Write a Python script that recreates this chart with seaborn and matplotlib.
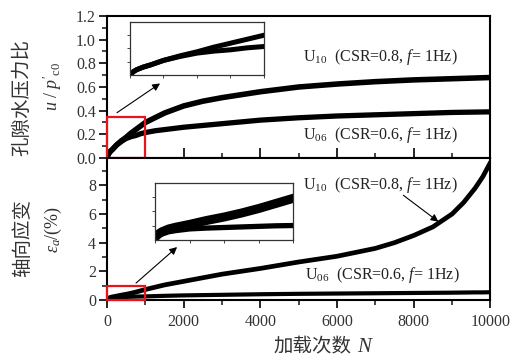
import matplotlib
matplotlib.use('Agg')
import matplotlib.pyplot as plt
import seaborn as sns
from matplotlib.patches import Rectangle
from matplotlib.ticker import MultipleLocator

# ---------- data ----------
N_pp = [0, 25, 50, 100, 150, 250, 375, 500, 625, 750, 875, 1000, 1250, 1500,
        2000, 2500, 3000, 4000, 5000, 6000, 7000, 8000, 9000, 10000]
pp_u10 = [0, 0.025, 0.04, 0.06, 0.075, 0.11, 0.145, 0.175, 0.21, 0.24, 0.27, 0.30,
          0.34, 0.38, 0.44, 0.48, 0.51, 0.56, 0.60, 0.625, 0.645, 0.66, 0.67, 0.68]
pp_u06 = [0, 0.025, 0.04, 0.06, 0.075, 0.11, 0.14, 0.165, 0.18, 0.19, 0.205, 0.215,
          0.23, 0.24, 0.26, 0.275, 0.29, 0.32, 0.34, 0.355, 0.365, 0.375, 0.385, 0.39]

N_ea = [0, 25, 50, 100, 150, 250, 375, 500, 625, 750, 875, 1000, 1500, 2000, 3000,
        4000, 5000, 6000, 7000, 7500, 8000, 8500, 9000, 9300, 9600, 9800, 10000]
ea_u10 = [0.04, 0.1, 0.14, 0.19, 0.22, 0.27, 0.34, 0.4, 0.47, 0.55, 0.64, 0.73, 1.05,
          1.3, 1.8, 2.2, 2.65, 3.05, 3.6, 4.0, 4.5, 5.1, 6.0, 6.8, 7.8, 8.6, 9.6]
ea_u06 = [0.03, 0.07, 0.1, 0.14, 0.16, 0.19, 0.205, 0.215, 0.225, 0.235, 0.245, 0.25,
          0.29, 0.32, 0.36, 0.4, 0.43, 0.45, 0.47, 0.48, 0.49, 0.5, 0.51, 0.52, 0.53,
          0.53, 0.54]

lab_u10 = r"U$_{\rm 10}$  (CSR=0.8, $f$= 1Hz)"
lab_u06 = r"U$_{\rm 06}$  (CSR=0.6, $f$= 1Hz)"

# ---------- style ----------
sns.set_theme(style='ticks')
plt.rcParams['font.family'] = ['Liberation Serif', 'Noto Sans CJK SC']
plt.rcParams['mathtext.fontset'] = 'custom'
plt.rcParams['mathtext.rm'] = 'Liberation Serif'
plt.rcParams['mathtext.it'] = 'Liberation Serif:italic'
plt.rcParams['axes.linewidth'] = 1.5
plt.rcParams['axes.edgecolor'] = 'black'

fig = plt.figure(figsize=(5.26, 3.6), dpi=100)
ax1 = fig.add_axes([0.2034, 0.5611, 0.7291, 0.3945])
ax2 = fig.add_axes([0.2034, 0.1667, 0.7291, 0.3944])

# main curves
sns.lineplot(x=N_pp, y=pp_u10, ax=ax1, color='black', lw=4.0)
sns.lineplot(x=N_pp, y=pp_u06, ax=ax1, color='black', lw=3.8)
sns.lineplot(x=N_ea, y=ea_u10, ax=ax2, color='black', lw=3.4)
sns.lineplot(x=N_ea, y=ea_u06, ax=ax2, color='black', lw=3.0)

ax1.set_xlim(0, 10000)
ax1.set_ylim(0, 1.2)
ax2.set_xlim(0, 10000)
ax2.set_ylim(0, 9.9)

for ax in (ax1, ax2):
    ax.xaxis.set_major_locator(MultipleLocator(2000))
    ax.xaxis.set_minor_locator(MultipleLocator(1000))
    ax.tick_params(axis='y', which='major', direction='out', length=6, width=1.4,
                   labelsize=11.5, labelcolor='#333333', pad=2)
    ax.tick_params(axis='y', which='minor', direction='out', length=3.5, width=1.2)
    ax.set_xlabel('')
    ax.set_ylabel('')

ax1.yaxis.set_minor_locator(MultipleLocator(0.1))
ax1.set_yticks([0, 0.2, 0.4, 0.6, 0.8, 1.0, 1.2])
ax1.set_yticklabels(['0.0', '0.2', '0.4', '0.6', '0.8', '1.0', '1.2'])
ax1.tick_params(axis='x', which='major', direction='inout', length=14, width=1.4,
                labelbottom=False)
ax1.tick_params(axis='x', which='minor', direction='inout', length=7, width=1.2)

ax2.yaxis.set_major_locator(MultipleLocator(2))
ax2.yaxis.set_minor_locator(MultipleLocator(1))
ax2.tick_params(axis='x', which='major', direction='out', length=6, width=1.4,
                labelsize=11.5, labelcolor='#333333', pad=4)
ax2.tick_params(axis='x', which='minor', direction='out', length=3.5, width=1.2)

# red zoom boxes
ax1.add_patch(Rectangle((0, 0), 1000, 0.35, fill=False, ec='#e8141c', lw=1.6,
                        clip_on=False, zorder=5))
ax2.add_patch(Rectangle((0, 0), 1000, 1.0, fill=False, ec='#e8141c', lw=1.6,
                        clip_on=False, zorder=5))

# arrows to insets
arrow = dict(arrowstyle='-|>', color='black', lw=0.8, mutation_scale=11,
             shrinkA=0, shrinkB=0)
ax1.annotate('', xy=(1384, 0.63), xytext=(261, 0.383), arrowprops=arrow)
ax2.annotate('', xy=(1828, 3.69), xytext=(757, 1.18), arrowprops=arrow)
ax2.annotate('', xy=(8642, 5.46), xytext=(7728, 7.3), arrowprops=arrow)

# curve labels
ax1.text(5117, 0.851, lab_u10, fontsize=11.5, va='center', color='#222222')
ax1.text(5117, 0.196, lab_u06, fontsize=11.5, va='center', color='#222222')
ax2.text(5117, 8.0, lab_u10, fontsize=11.5, va='center', color='#222222')
ax2.text(5170, 1.74, lab_u06, fontsize=11.5, va='center', color='#222222')

# ---------- insets ----------
ins1 = fig.add_axes([0.2471, 0.7917, 0.2548, 0.1472])
sns.lineplot(x=N_pp, y=pp_u10, ax=ins1, color='black', lw=3.6)
sns.lineplot(x=N_pp, y=pp_u06, ax=ins1, color='black', lw=3.6)
ins1.set_xlim(0, 1000)
ins1.set_ylim(0, 0.4)
ins1.set_yticks([0.1, 0.2, 0.3])

ins2 = fig.add_axes([0.2947, 0.3342, 0.263, 0.1575])
sns.lineplot(x=N_ea, y=ea_u10, ax=ins2, color='black', lw=6.5)
sns.lineplot(x=N_ea, y=ea_u06, ax=ins2, color='black', lw=3.8)
ins2.set_xlim(0, 1000)
ins2.set_ylim(0, 1.0)
ins2.set_yticks([0.25, 0.5, 0.75])

for ins in (ins1, ins2):
    ins.set_xticks([0, 250, 500, 750, 1000])
    ins.tick_params(direction='out', length=2.5, width=0.7, labelbottom=False,
                    labelleft=False, color='#444444')
    for sp in ins.spines.values():
        sp.set_linewidth(0.9)
        sp.set_color('#333333')
    ins.set_xlabel('')
    ins.set_ylabel('')

# ---------- axis titles ----------
cjk = 'Noto Sans CJK SC'
fig.text(22 / 526, 1 - 97 / 360, '孔隙水压力比', family=cjk, fontsize=14,
         rotation=90, ha='center', va='center', color='#333333')
fig.text(52 / 526, 1 - 86 / 360, r"$u\ /\ p'_{\rm c0}$", fontsize=13,
         rotation=90, ha='center', va='center', color='#333333')
fig.text(23 / 526, 1 - 238 / 360, '轴向应变', family=cjk, fontsize=14,
         rotation=90, ha='center', va='center', color='#333333')
fig.text(53 / 526, 1 - 229 / 360, r"$\varepsilon_a$/(%)", fontsize=13,
         rotation=90, ha='center', va='center', color='#333333')
fig.text(351 / 526, 1 - 347 / 360, '加载次数', family=cjk, fontsize=14,
         ha='right', va='center', color='#333333')
fig.text(357 / 526, 1 - 347 / 360, 'N', fontsize=15, style='italic',
         ha='left', va='center', color='#333333')

fig.savefig('out.png', dpi=100)
